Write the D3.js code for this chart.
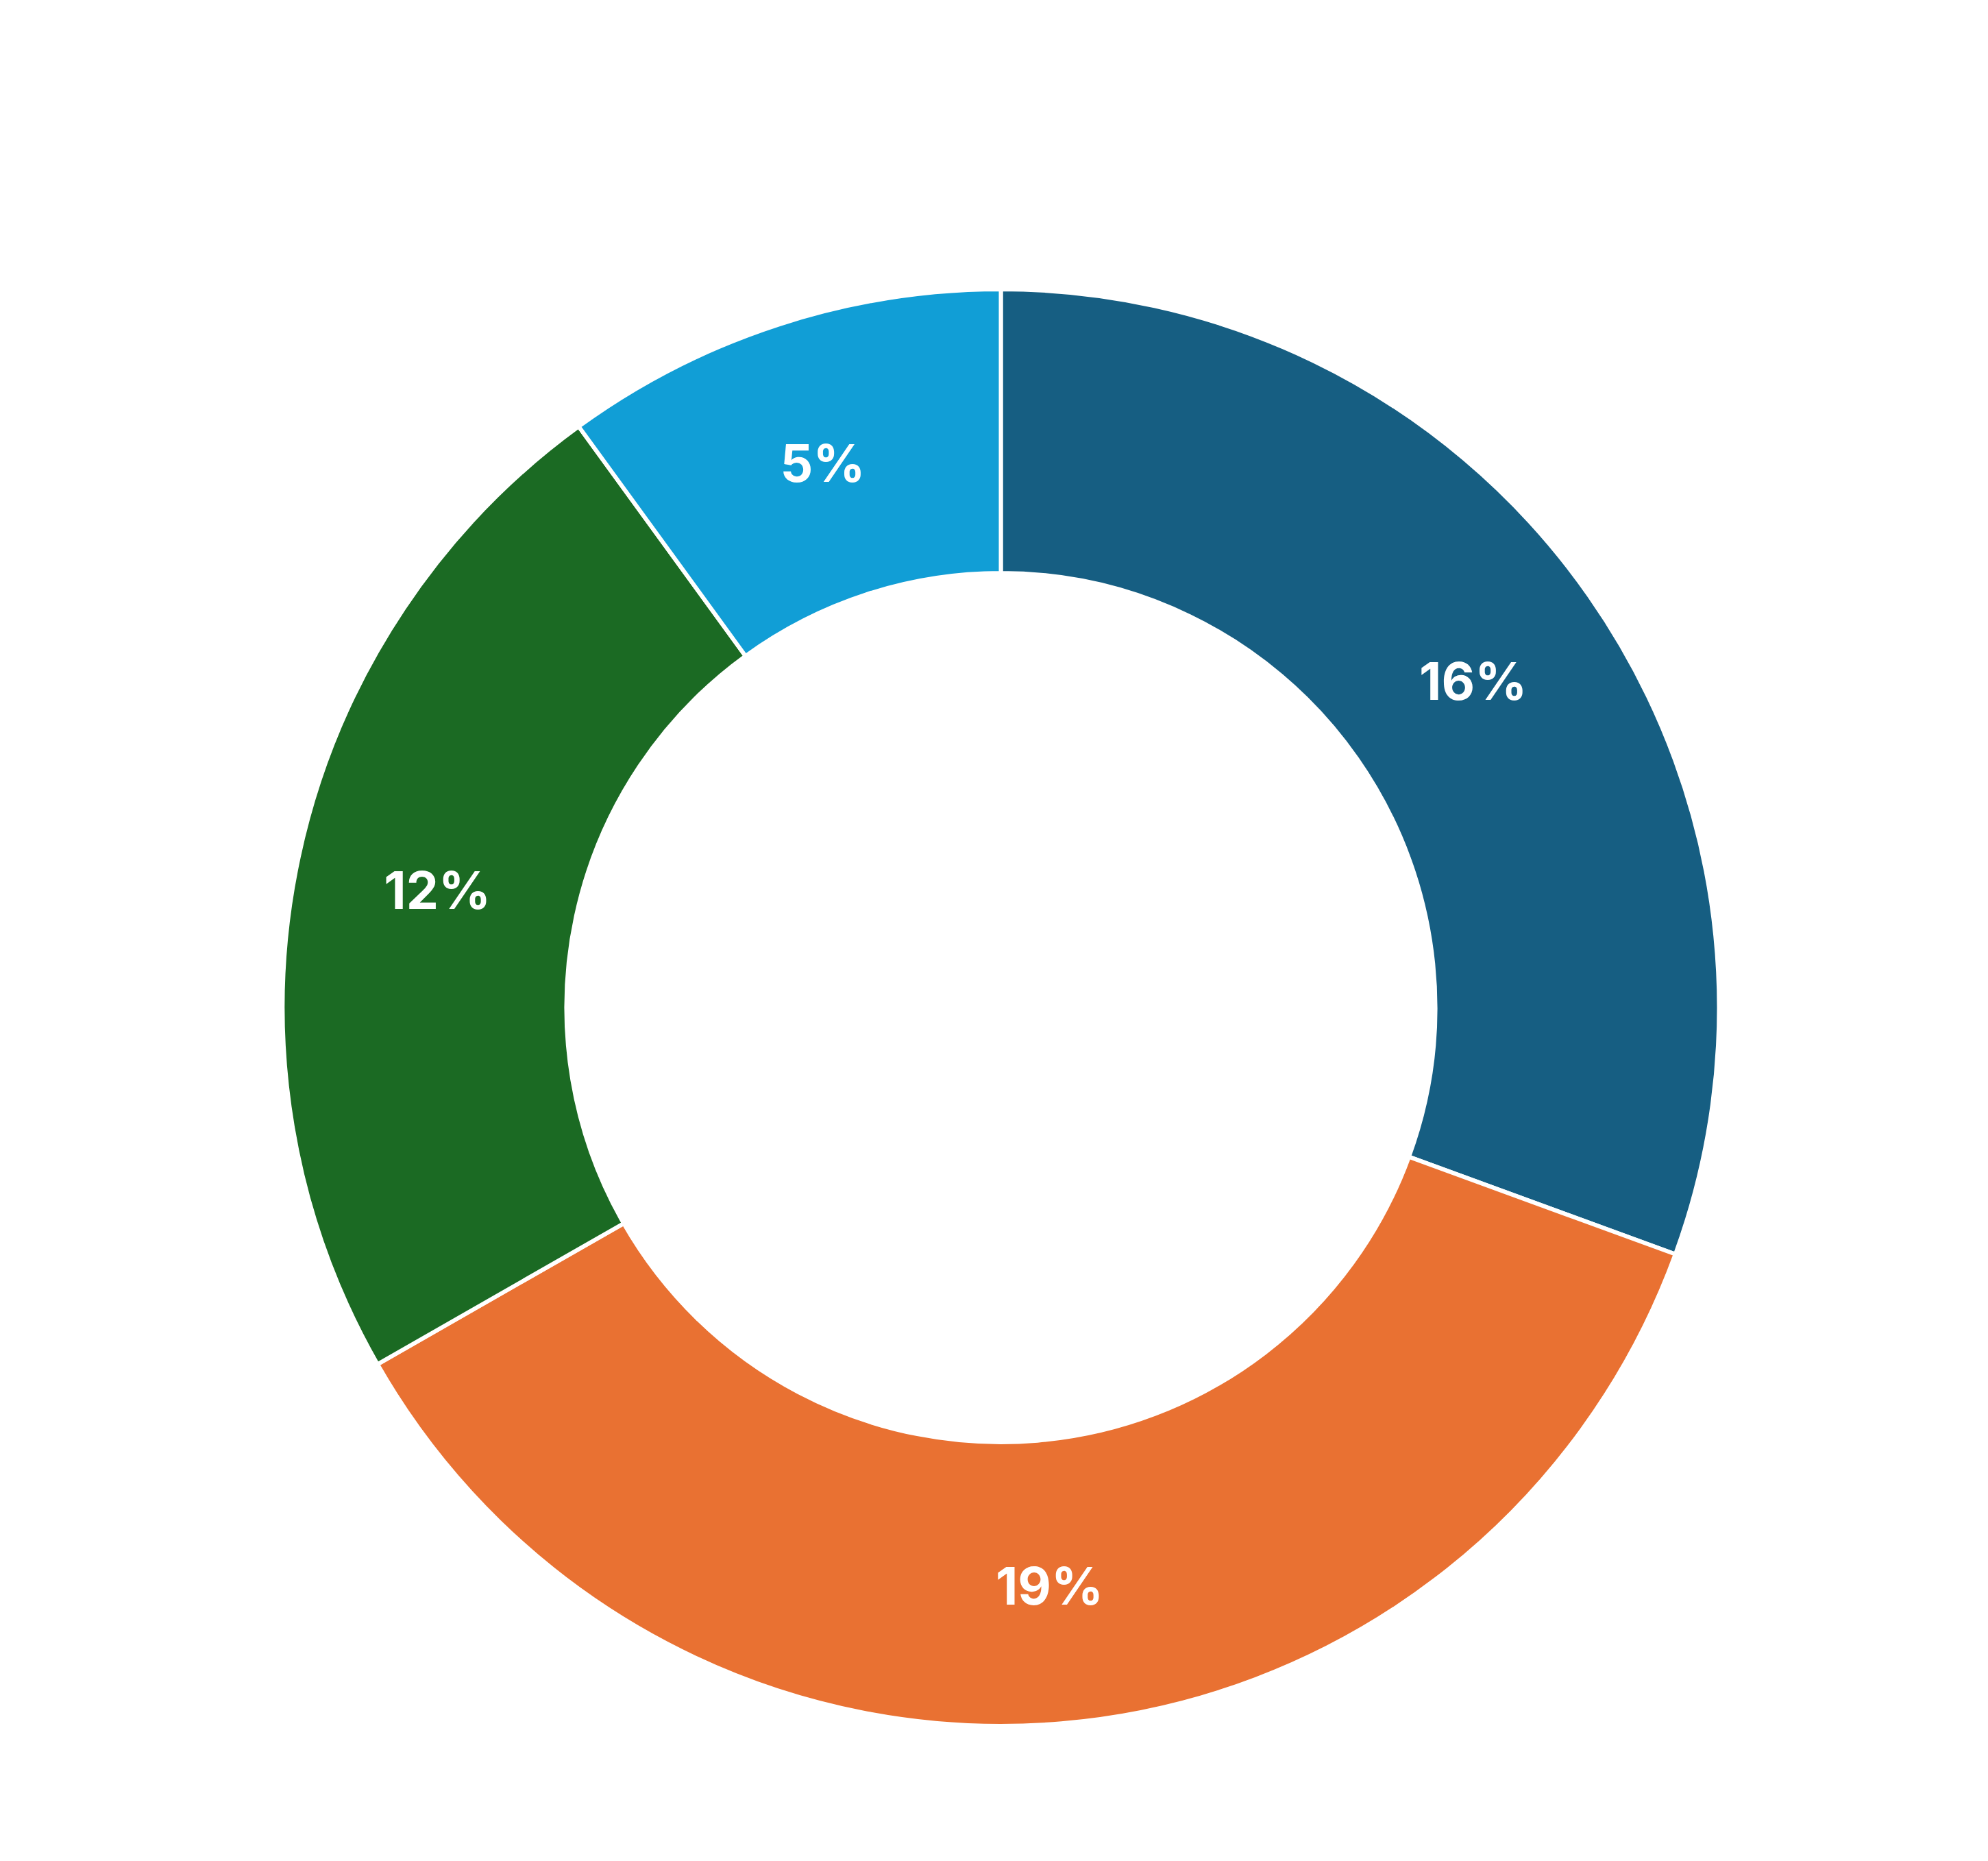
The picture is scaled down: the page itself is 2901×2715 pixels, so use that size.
<!DOCTYPE html>
<html>
<head>
<meta charset="utf-8">
<script src="https://cdn.jsdelivr.net/npm/d3@7"></script>
<style>
  html, body { margin: 0; padding: 0; background: #fff; }
</style>
</head>
<body>
<div class="chart"></div>
<script>
var categories = ["A", "B", "C", "D"];
// slice sizes (labels are rounded)
var values = [15.9, 18.8, 12.1, 5.2];
var labels = ["16%", "19%", "12%", "5%"];
var colors = ["#165e82", "#e97132", "#1b6a23", "#119ed6"];

var width = 2901,
    height = 2715,
    cx = 1460.5,
    cy = 1470,
    outerR = 1048,
    innerR = 634;

var svg = d3.select(".chart").append("svg")
    .attr("width", width)
    .attr("height", height)
  .append("g")
    .attr("transform", "translate(" + cx + "," + cy + ")");

var data = categories.map(function(c, i) {
  return {cat: c, value: values[i], label: labels[i], color: colors[i]};
});

var pie = d3.pie().sort(null).value(function(d) { return d.value; });
var arc = d3.arc().innerRadius(innerR).outerRadius(outerR);

var slices = svg.selectAll(".slice")
    .data(pie(data))
    .enter().append("g")
    .attr("class", "slice");

slices.append("path")
    .attr("d", arc)
    .style("fill", function(d) { return d.data.color; })
    .style("stroke", "#fff")
    .style("stroke-width", 6);

// labels at arc centroid
slices.append("text")
    .attr("transform", function(d) { return "translate(" + arc.centroid(d) + ")"; })
    .attr("text-anchor", "middle")
    .attr("dy", "0.44em")
    .style("font-family", "Inter, 'Noto Sans', sans-serif")
    .style("font-weight", 700)
    .style("font-size", "75px")
    .style("fill", "#fff")
    .text(function(d) { return d.data.label; });
</script>
</body>
</html>
